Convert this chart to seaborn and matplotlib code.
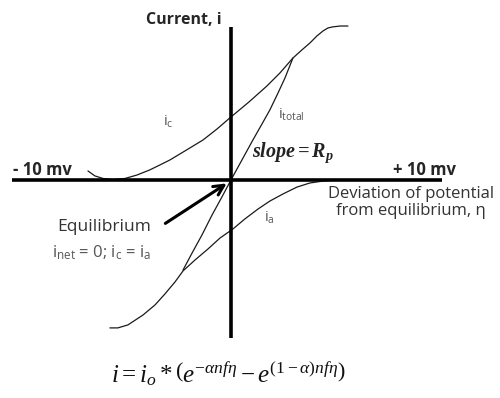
import matplotlib
matplotlib.use("Agg")
import matplotlib.pyplot as plt
import seaborn as sns
import pandas as pd

# overpotential eta (axis units, 10 units ~ 10 mV) and current values
ic_eta = [-6.65, -6.33, -5.95, -5.49, -4.93, -4.37, -3.77, -3.30, -2.84, -2.14, -1.30, -0.65,
          0.00, 0.84, 1.67, 2.28, 2.88, 3.30, 3.67, 4.00, 4.28, 4.51, 4.74, 5.07, 5.44]
ic_cur = [0.42, 0.19, 0.07, 0.02, 0.07, 0.23, 0.47, 0.70, 0.93, 1.35, 1.86, 2.37,
          2.93, 3.63, 4.37, 4.98, 5.67, 6.05, 6.37, 6.70, 6.93, 7.07, 7.12, 7.16, 7.16]

ia_eta = [-5.63, -5.26, -4.79, -4.09, -3.53, -3.07, -2.60, -2.23, -1.67, -1.07,
          -0.51, 0.09, 0.65, 1.26, 1.81, 2.42, 3.07, 3.67, 4.28, 4.93]
ia_cur = [-6.88, -6.88, -6.74, -6.28, -5.81, -5.30, -4.74, -4.23, -3.72, -3.21,
          -2.70, -2.28, -1.81, -1.35, -0.98, -0.65, -0.33, -0.14, -0.05, 0.00]

itot_eta = [-2.23, -1.81, -1.35, -0.88, -0.42, 0.00, 0.51, 1.02, 1.44, 1.81, 2.19, 2.51, 2.88]
itot_cur = [-4.19, -3.40, -2.56, -1.63, -0.79, 0.00, 0.93, 1.86, 2.60, 3.26, 4.05, 4.74, 5.67]

axis_eta = [-10.2, 9.8]
axis_cur = [-7.35, 7.12]

curves = pd.concat([
    pd.DataFrame({"eta": ic_eta, "i": ic_cur, "curve": "ic"}),
    pd.DataFrame({"eta": ia_eta, "i": ia_cur, "curve": "ia"}),
    pd.DataFrame({"eta": itot_eta, "i": itot_cur, "curve": "itotal"}),
])

sns.set_theme(style="white")
plt.rcParams["font.family"] = ["Open Sans", "DejaVu Sans"]
plt.rcParams["mathtext.fontset"] = "custom"
plt.rcParams["mathtext.rm"] = "Liberation Serif"
plt.rcParams["mathtext.it"] = "Liberation Serif:italic"
plt.rcParams["mathtext.bf"] = "Liberation Serif:bold:italic"

fig = plt.figure(figsize=(5.0, 3.98), dpi=100)
ax = fig.add_axes([0, 0, 1, 1])

sns.lineplot(data=curves, x="eta", y="i", units="curve", estimator=None, sort=False,
             color="#1a1a1a", linewidth=0.9, ax=ax, legend=False)

# thick axes through the equilibrium point
ax.plot(axis_eta, [0, 0], color="black", linewidth=2.6, solid_capstyle="butt")
ax.plot([0, 0], axis_cur, color="black", linewidth=2.6, solid_capstyle="butt")

ax.set_xlim(-10.74, 12.51)
ax.set_ylim(-10.14, 8.37)
ax.axis("off")

ax.text(-0.42, 7.44, "Current, i", ha="right", va="center", fontsize=11.5, fontweight="bold")
ax.text(-10.14, 0.47, "- 10 mv", ha="left", va="center", fontsize=12, fontweight="bold")
ax.text(7.53, 0.47, "+ 10 mv", ha="left", va="center", fontsize=12, fontweight="bold")

gray = "#555555"
ax.text(-2.93, 2.70, r"i$_{\mathregular{c}}$", ha="center", va="center", fontsize=10.5, color=gray)
ax.text(2.79, 3.02, r"i$_{\mathregular{total}}$", ha="center", va="center", fontsize=10.5, color=gray)
ax.text(1.77, -1.77, r"i$_{\mathregular{a}}$", ha="center", va="center", fontsize=10.5, color=gray)
ax.text(2.88, 1.26, r"$\mathbf{slope = R_p}$", ha="center", va="center", fontsize=14.5, color="#222222")

ax.text(8.37, -1.05, "Deviation of potential\nfrom equilibrium, \u03b7", ha="center", va="center",
        fontsize=12, color="#333333", linespacing=1.1)
ax.text(-5.91, -2.19, "Equilibrium", ha="center", va="center", fontsize=12.5, color="#333333")
ax.text(-6.0, -3.40, r"i$_{\mathregular{net}}$ = 0; i$_{\mathregular{c}}$ = i$_{\mathregular{a}}$",
        ha="center", va="center", fontsize=12, color=gray)

ax.annotate("", xy=(-0.09, -0.09), xytext=(-3.16, -2.09),
            arrowprops=dict(arrowstyle="->,head_length=0.6,head_width=0.3", color="black", lw=2.2))

ax.text(-0.14, -9.05, r"$i = i_o *\left(e^{-\alpha n f\eta} - e^{(1-\alpha)n f\eta}\right)$",
        ha="center", va="center", fontsize=18, color="#111111")

fig.savefig("out.png", dpi=100)
